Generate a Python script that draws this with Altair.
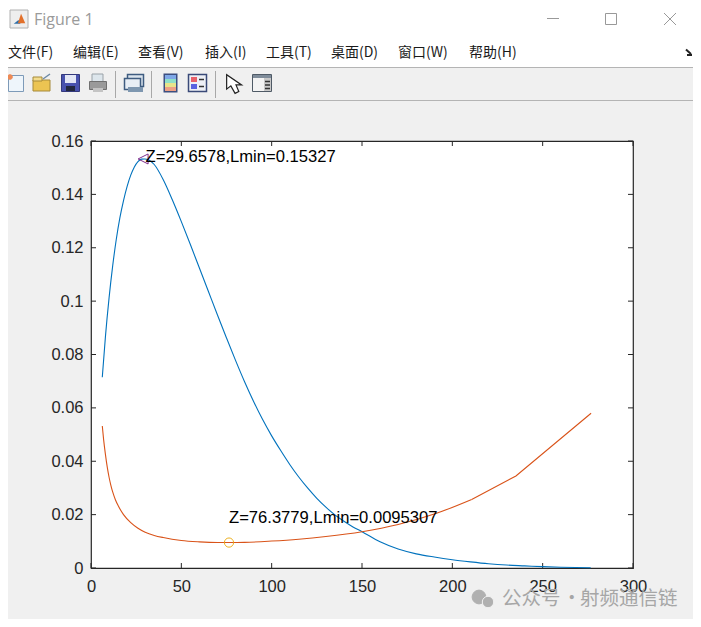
import altair as alt
import pandas as pd

# ---------- data ----------
BLUE_Z = [6.25, 8, 10, 12, 14, 16, 18, 20, 22, 24, 26, 28, 29.66, 32, 35, 40, 45, 50, 55, 60, 65, 70, 75, 80,
          85, 90, 95, 100, 105, 110, 115, 120, 125, 130, 135, 140, 145, 150, 160, 170, 180, 190, 200, 210,
          220, 230, 240, 250, 260, 276.6]
BLUE_L = [.0715, .0868, .1012, .1132, .1232, .1313, .1377, .1430, .1472, .1503, .1523, .1532, .15327, .1529,
          .1512, .1455, .1380, .1298, .1212, .1124, .1036, .0948, .0862, .0778, .0698, .0624, .0556, .0495,
          .0440, .0388, .0341, .0299, .0261, .0228, .0199, .0175, .0154, .0136, .0098, .0071, .0053, .0041,
          .0031, .0023, .0016, .0011, .0008, .0005, .0003, .0001]
ORANGE_SMOOTH_Z = [6.25, 7, 8, 9, 10, 11, 12, 13.5, 15, 18, 22, 26, 30, 35, 40, 50, 60, 70, 76.38, 85, 100, 115,
                   130, 150, 170, 190, 210.7]
ORANGE_SMOOTH_L = [.0532, .0480, .0425, .0378, .0340, .0310, .0285, .0256, .0234, .0200, .0170, .0149, .0134,
                   .0122, .0114, .0103, .0098, .00955, .00953, .0096, .0101, .0108, .0118, .0136, .0163,
                   .0202, .0257]
ORANGE_END_Z = [210.7, 235.2, 276.8]
ORANGE_END_L = [.0257, .0345, .0580]
MIN_BLUE = (29.6578, 0.15327)
MIN_ORANGE = (76.3779, 0.0095307)
LABEL_BLUE = "Z=29.6578,Lmin=0.15327"
LABEL_ORANGE = "Z=76.3779,Lmin=0.0095307"
X_TICKS = [0, 50, 100, 150, 200, 250, 300]
Y_TICKS = [0, 0.02, 0.04, 0.06, 0.08, 0.1, 0.12, 0.14, 0.16]
MENU_LABELS = ["文件(F)", "编辑(E)", "查看(V)", "插入(I)", "工具(T)", "桌面(D)", "窗口(W)", "帮助(H)"]
TITLE = "Figure 1"
WATERMARK_PARTS = ["公众号", "·", "射频通信链"]

# ---------- layout ----------
OX, OY = 91, 141          # page position of the plot area's corner
W, H = 542, 427
DARK = "#262626"
FONT = "Liberation Sans"
CJK = "Noto Sans CJK SC"

AX_X = alt.Axis(values=X_TICKS, ticks=False, domain=False, grid=False, title=None, labelFont=FONT,
                labelFontSize=16.5, labelColor=DARK, labelPadding=10, labelOverlap=False, labelFlush=False,
                format="d")
AX_Y = alt.Axis(values=Y_TICKS, ticks=False, domain=False, grid=False, title=None, labelFont=FONT,
                labelFontSize=16.5, labelColor=DARK, labelPadding=8, labelOverlap=False, labelFlush=False,
                format="~g")
SX = alt.Scale(domain=[0, 300], nice=False, zero=False)
SY = alt.Scale(domain=[0, 0.16], nice=False, zero=False)
def X(f): return alt.X(f, type="quantitative", scale=SX, axis=AX_X)
def Y(f): return alt.Y(f, type="quantitative", scale=SY, axis=AX_Y)

ONE = pd.DataFrame({"k": [0]})
layers = []

def rect(x0, y0, x1, y1, color, stroke=None, sw=1):
    kw = {"stroke": stroke, "strokeWidth": sw} if stroke else {}
    return alt.Chart(ONE).mark_rect(color=color, **kw).encode(
        x=alt.value(x0 - OX), x2=alt.value(x1 - OX), y=alt.value(y0 - OY), y2=alt.value(y1 - OY))

def seg(x0, y0, x1, y1, color, sw=1):
    return alt.Chart(ONE).mark_rule(color=color, strokeWidth=sw).encode(
        x=alt.value(x0 - OX), x2=alt.value(x1 - OX), y=alt.value(y0 - OY), y2=alt.value(y1 - OY))

def text(t, x, y, size, color, font=CJK, align="left", weight="normal"):
    return alt.Chart(ONE).mark_text(align=align, baseline="middle", font=font, fontSize=size,
                                    color=color, fontWeight=weight).encode(
        x=alt.value(x - OX), y=alt.value(y - OY), text=alt.value(t))

def glyph(shape, x, y, size, fill, stroke=None, sw=1):
    return alt.Chart(ONE).mark_point(shape=shape, size=size, filled=True, fill=fill, opacity=1,
                                     stroke=stroke or fill, strokeWidth=sw).encode(
        x=alt.value(x - OX), y=alt.value(y - OY))

# ---------- window chrome ----------
layers += [
    rect(0, 0, 701, 67, "#ffffff"),
    seg(0, 67.5, 701, 67.5, "#b4b4b4"),
    seg(0, 100.5, 701, 100.5, "#b4b4b4"),
    # window buttons
    seg(547, 18.5, 559, 18.5, "#999999"),
    rect(605.5, 13.5, 616.5, 24.5, "#ffffff", stroke="#999999"),
    seg(664, 13, 676, 25, "#999999"), seg(664, 25, 676, 13, "#999999"),
    text(TITLE, 34, 20, 16, "#9a9a9a", font="Open Sans"),
    # logo
    rect(10, 10, 28, 28, "#eeeeee", stroke="#b0b0b0"),
    glyph("M -1 0.7 L -0.1 0 L 0.3 0.7 Z", 19, 20, 110, "#2f6fa8", sw=0),
    glyph("M -0.4 0.8 L 0.2 -1 L 1 0.8 Z", 20, 19, 110, "#e2702a", sw=0),
    # overflow arrow of the menu bar
    seg(686, 49.5, 691, 54, "#222222", 2), seg(687, 55, 692, 55, "#222222", 2),
    # new
    rect(8.5, 75.5, 23.5, 91.5, "#eef5fb", stroke="#7d9ab8"),
    glyph("circle", 10, 77, 22, "#ee8a55"),
    # open
    rect(33, 80, 50, 91, "#ecc452", stroke="#a68a3a"),
    rect(33, 77, 42, 81, "#f3dc8d", stroke="#a68a3a"),
    seg(43, 79, 50, 74, "#6d8aa6", 1.5),
    # save
    rect(61.5, 74.5, 79.5, 91.5, "#4852ae", stroke="#33397c"),
    rect(65, 75, 76, 83, "#e3e7f5"),
    rect(66, 86, 75, 91, "#22283f"),
    # print
    rect(92, 74, 103, 82, "#dde6ec", stroke="#9aa2a8"),
    rect(89.5, 81.5, 106.5, 89.5, "#9a9a9a", stroke="#707070"),
    rect(93, 88, 103, 92, "#c4c4c4"),
    seg(115.5, 71, 115.5, 98, "#a8a8a8"),
    # link
    rect(127.5, 74.5, 143.5, 86.5, "#dbe4ee", stroke="#3f5c80", sw=1.5),
    rect(124.5, 78.5, 140.5, 89.5, "#e8eef5", stroke="#3f5c80", sw=1.5),
    rect(128, 87, 143, 92, "#7e97b0"),
    seg(151.5, 71, 151.5, 98, "#a8a8a8"),
    # colorbar
    rect(163.5, 73.5, 177.5, 92.5, "#3c4f80"),
    rect(165, 75, 176, 79, "#7fa8e8"),
    rect(165, 79, 176, 83, "#8fe0c8"),
    rect(165, 83, 176, 87, "#e8e48a"),
    rect(165, 87, 176, 91, "#eea084"),
    # legend
    rect(188.5, 74.5, 206.5, 91.5, "#eef0f6", stroke="#3a4a78", sw=1.5),
    rect(191, 77, 197, 82, "#e8606a"),
    rect(191, 84, 197, 89, "#5a62e0"),
    seg(199, 79.5, 204, 79.5, "#333333", 1.5),
    seg(199, 86.5, 204, 86.5, "#333333", 1.5),
    seg(215.5, 71, 215.5, 98, "#a8a8a8"),
    # pointer
    glyph("M -1 -1 L -1 0.55 L -0.55 0.2 L -0.1 1 L 0.3 0.8 L 0 0.1 L 0.6 0.1 Z", 236, 84, 350, "#ffffff",
          stroke="#222222", sw=1.2),
    # plot browser
    rect(252.5, 74.5, 271.5, 91.5, "#f3f3f3", stroke="#4f5a66"),
    rect(253, 75, 271, 78, "#7f8c9a"),
    rect(264, 78, 271, 91, "#c8c8c8"),
    seg(265, 81.5, 270, 81.5, "#333333", 1.5),
    seg(265, 85, 270, 85, "#333333", 1.5),
    seg(265, 88.5, 270, 88.5, "#333333", 1.5),
]
MENU_X = [8, 73, 138, 205, 266, 331, 398, 469]
for label, mx in zip(MENU_LABELS, MENU_X):
    layers.append(text(label, mx, 53, 14, "#1a1a1a"))

# ---------- ticks on all four sides, pointing inwards ----------
xt = pd.DataFrame({"x": X_TICKS})
yt = pd.DataFrame({"y": Y_TICKS})
for a, b in [(H, H - 5), (0, 5)]:
    layers.append(alt.Chart(xt).mark_rule(color=DARK, strokeWidth=1).encode(
        x=X("x"), y=alt.value(a), y2=alt.value(b)))
for a, b in [(0, 5), (W, W - 5)]:
    layers.append(alt.Chart(yt).mark_rule(color=DARK, strokeWidth=1).encode(
        y=Y("y"), x=alt.value(a), x2=alt.value(b)))

# ---------- curves ----------
blue = pd.DataFrame({"z": BLUE_Z, "l": BLUE_L})
o1 = pd.DataFrame({"z": ORANGE_SMOOTH_Z, "l": ORANGE_SMOOTH_L})
o2 = pd.DataFrame({"z": ORANGE_END_Z, "l": ORANGE_END_L})
layers += [
    alt.Chart(blue).mark_line(color="#0072BD", strokeWidth=1.1, interpolate="monotone").encode(x=X("z"), y=Y("l")),
    alt.Chart(o1).mark_line(color="#D95319", strokeWidth=1.1, interpolate="monotone").encode(x=X("z"), y=Y("l")),
    alt.Chart(o2).mark_line(color="#D95319", strokeWidth=1.1).encode(x=X("z"), y=Y("l")),
]

# ---------- minima ----------
mb = pd.DataFrame({"z": [MIN_BLUE[0]], "l": [MIN_BLUE[1]], "t": [LABEL_BLUE]})
mo = pd.DataFrame({"z": [MIN_ORANGE[0]], "l": [MIN_ORANGE[1]], "t": [LABEL_ORANGE]})
layers += [
    alt.Chart(mb).mark_point(shape="M -1.3 0 L 0.7 -1 L 0.7 1 Z", size=100, color="#7E2F8E", filled=False,
                             strokeWidth=1, opacity=1).encode(x=X("z"), y=Y("l")),
    alt.Chart(mo).mark_point(shape="circle", size=85, color="#EDB120", filled=False,
                             strokeWidth=1, opacity=1).encode(x=X("z"), y=Y("l")),
    alt.Chart(mb).mark_text(align="left", baseline="middle", font=FONT, fontSize=16.6, color="#000000",
                            dx=1, dy=-2).encode(x=X("z"), y=Y("l"), text="t:N"),
    alt.Chart(mo).mark_text(align="left", baseline="middle", font=FONT, fontSize=16.6, color="#000000",
                            dx=0, dy=-25).encode(x=X("z"), y=Y("l"), text="t:N"),
]

# ---------- watermark ----------
layers += [
    glyph("circle", 479, 597, 190, "#b0b0b0"),
    glyph("circle", 488, 602, 130, "#b0b0b0", stroke="#f0f0f0", sw=1),
]
for part, wx in zip(WATERMARK_PARTS, [502, 562, 580]):
    layers.append(text(part, wx, 599, 19.5, "#a6a6a6"))

chart = alt.layer(*layers).properties(
    width=W, height=H,
    background="#f0f0f0",
    padding={"left": 83, "top": 133, "right": 60, "bottom": 51},
    autosize=alt.AutoSizeParams(type="none"),
).configure_view(fill="#ffffff", stroke=DARK, strokeWidth=1.2)

chart.save("out.html", embed_options={"renderer": "svg", "actions": False})
